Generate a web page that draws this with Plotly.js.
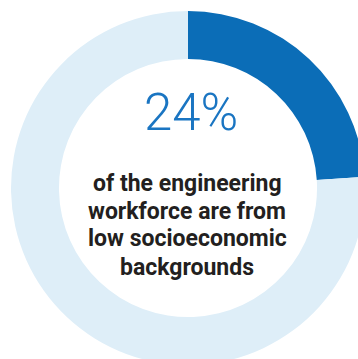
<!DOCTYPE html>
<html>
<head>
<meta charset="utf-8">
<script src="https://cdn.plot.ly/plotly-3.0.1.min.js"></script>
<style>
html,body{margin:0;padding:0;background:#fff;overflow:hidden;}
#chart{width:376px;height:376px;}
</style>
</head>
<body>
<div id="chart"></div>
<script>
const categories = ["Low socioeconomic background", "Other backgrounds"];
const shares = [24, 76];
const headline = "24%";
const captionLines = ["of the engineering", "workforce are from", "low socioeconomic", "backgrounds"];
const colors = ["#0b6db7", "#deeef8"];

const W = 376, M = 11, P = W - 2 * M;
function py(px) { return 1 - (px - M) / P; }
function pxX(px) { return (px - M) / P; }

const annotations = [{
  text: headline, xref: "paper", yref: "paper",
  x: pxX(191), y: py(112), xanchor: "center", yanchor: "middle",
  showarrow: false,
  font: {family: "Roboto", size: 51, color: "#1a75c2", weight: 300}
}];
captionLines.forEach((t, i) => {
  annotations.push({
    text: "<b>" + t + "</b>", xref: "paper", yref: "paper",
    x: pxX(187), y: py(183 + i * 28), xanchor: "center", yanchor: "middle",
    showarrow: false,
    font: {family: "Roboto", size: 23, color: "#231f20"}
  });
});

Plotly.newPlot("chart", [{
  type: "pie",
  labels: categories,
  values: shares,
  sort: false,
  direction: "clockwise",
  rotation: 0,
  hole: 0.729,
  marker: {colors: colors, line: {width: 0}},
  textinfo: "none",
  hoverinfo: "none",
  showlegend: false
}], {
  width: W, height: W,
  margin: {l: M, r: M, t: M, b: M},
  paper_bgcolor: "#ffffff",
  annotations: annotations
}, {staticPlot: true, displayModeBar: false});
</script>
</body>
</html>
